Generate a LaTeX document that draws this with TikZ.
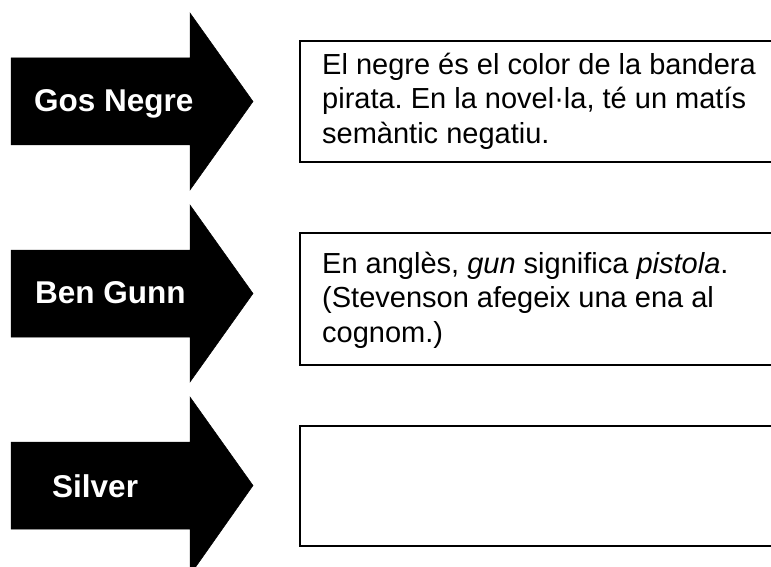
\documentclass[tikz,border=0pt]{standalone}
\usepackage{fontspec}
\setmainfont{Liberation Sans}
\frenchspacing
\begin{document}
\begin{tikzpicture}[x=1pt,y=-1pt,
  arrowshape/.style={fill=black,draw=black,line width=0.5pt},
  arrowlabel/.style={anchor=base west,inner sep=0pt,text=white,font=\fontsize{31.5}{36}\selectfont\bfseries},
  notebox/.style={draw=black,line width=1.6pt},
  notetext/.style={anchor=base west,inner sep=0pt,align=left,font=\fontsize{29}{34.5}\selectfont\frenchspacing}]
\useasboundingbox (0,0) rectangle (771,567);
\clip (0,0) rectangle (771,567);
% arrows
\fill[arrowshape] (11,58) -- (190,58) -- (190,13) -- (253,101.5) -- (190,190) -- (190,145) -- (11,145) -- cycle;
\fill[arrowshape] (11,250) -- (190,250) -- (190,205) -- (253,293.5) -- (190,382) -- (190,337) -- (11,337) -- cycle;
\fill[arrowshape] (11,442) -- (190,442) -- (190,397) -- (253,485.5) -- (190,575) -- (190,529) -- (11,529) -- cycle;
\node[arrowlabel] (l1) at (34,112) {Gos Negre};
\node[arrowlabel] (l2) at (35,303) {Ben Gunn};
\node[arrowlabel] (l3) at (52,497) {Silver};
% boxes (open on the right, cut by the picture's edge)
\draw[notebox] (800,41) -- (300,41) -- (300,162) -- (800,162);
\draw[notebox] (800,233) -- (300,233) -- (300,365) -- (800,365);
\draw[notebox] (800,426) -- (300,426) -- (300,546) -- (800,546);
\node[notetext] (t1) at (322,143) {El negre és el color de la bandera\\pirata. En la novel·la, té un matís\\semàntic negatiu.};
\node[notetext] (t2) at (322,342) {En anglès, \textit{gun} significa \textit{pistola}.\\(Stevenson afegeix una ena al\\cognom.)};
\end{tikzpicture}
\end{document}
